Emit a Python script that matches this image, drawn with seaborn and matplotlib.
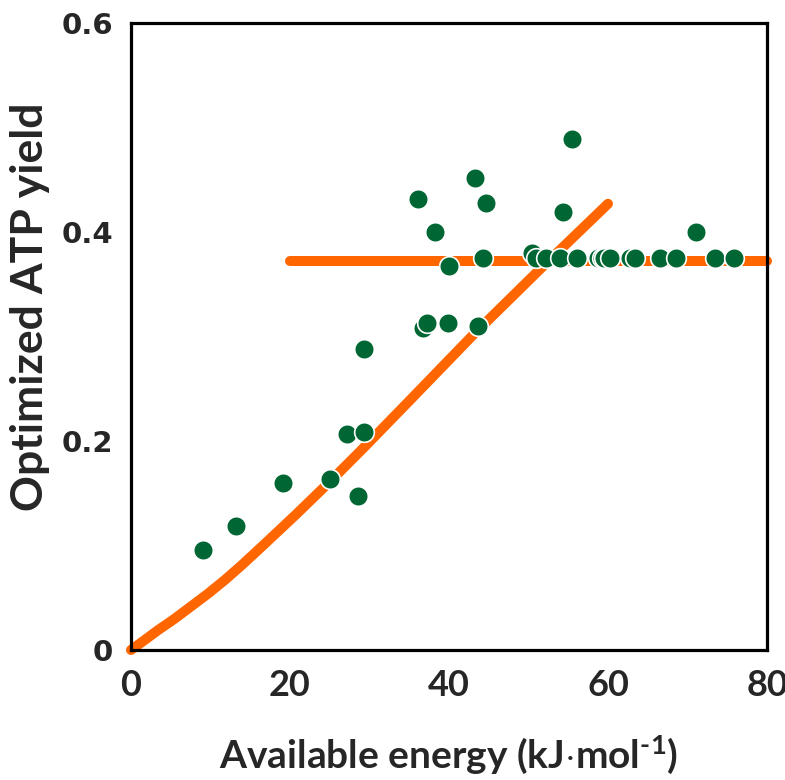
import matplotlib
matplotlib.use("Agg")
import matplotlib.pyplot as plt
import seaborn as sns

# ---- data ----
energy = [9.1, 13.2, 19.1, 25.0, 28.5, 27.2, 29.3, 29.3, 36.1, 38.2, 40.0,
          36.7, 37.2, 39.9, 43.3, 44.7, 44.3, 43.6, 55.5, 54.4, 71.1,
          50.4, 51.0, 52.2, 53.9, 56.1, 58.8, 59.2, 59.5, 60.3, 62.8, 63.4,
          66.5, 68.6, 73.5, 75.8]
atp_yield = [0.096, 0.119, 0.160, 0.164, 0.147, 0.207, 0.209, 0.288, 0.432, 0.400, 0.367,
             0.308, 0.313, 0.313, 0.452, 0.428, 0.375, 0.310, 0.489, 0.419, 0.400,
             0.380, 0.375, 0.375, 0.375, 0.375, 0.375, 0.375, 0.375, 0.375, 0.375, 0.375,
             0.375, 0.375, 0.375, 0.375]

curve_energy = [0.0, 1.8, 3.4, 5.5, 7.6, 9.7, 11.8, 13.9, 16.6, 20.8, 25.0, 29.2,
                34.7, 43.1, 51.4, 60.0]
curve_yield = [0.0, 0.010, 0.019, 0.030, 0.042, 0.054, 0.067, 0.081, 0.100, 0.130,
               0.161, 0.193, 0.236, 0.302, 0.364, 0.427]

plateau_energy = [20.0, 80.0]
plateau_yield = [0.372, 0.372]

x_ticks = [0, 20, 40, 60, 80]
x_tick_labels = ["0", "20", "40", "60", "80"]
y_ticks = [0, 0.1, 0.2, 0.3, 0.4, 0.5, 0.6]
y_tick_labels = ["0", "", "0.2", "", "0.4", "", "0.6"]

ORANGE = "#FF6600"
GREEN = "#006633"

sns.set_theme(style="white")
plt.rcParams["font.family"] = ["Lato", "DejaVu Sans"]
plt.rcParams["mathtext.fontset"] = "custom"
plt.rcParams["mathtext.rm"] = "Lato:bold"
plt.rcParams["mathtext.it"] = "Lato:bold"
plt.rcParams["mathtext.bf"] = "Lato:bold"

fig = plt.figure(figsize=(7.85, 7.8), dpi=100)
ax = fig.add_axes([131 / 785, 1 - 650 / 780, (767 - 131) / 785, (650 - 23) / 780])

sns.lineplot(x=curve_energy, y=curve_yield, sort=False, estimator=None,
             color=ORANGE, linewidth=7.2, ax=ax)
sns.lineplot(x=plateau_energy, y=plateau_yield, sort=False, estimator=None,
             color=ORANGE, linewidth=7.2, ax=ax)
for ln in ax.get_lines():
    ln.set_solid_capstyle("round")
    ln.set_solid_joinstyle("round")
    ln.set_clip_on(False)
    ln.set_zorder(2)

sns.scatterplot(x=energy, y=atp_yield, s=200, color=GREEN, edgecolor="white",
                linewidth=1.2, zorder=3, ax=ax, clip_on=False)

ax.set_xlim(0, 80)
ax.set_ylim(0, 0.6)
ax.set_xticks(x_ticks)
ax.set_xticklabels(x_tick_labels, fontfamily="Lato", fontweight="bold", fontsize=26)
ax.set_yticks(y_ticks)
ax.set_yticklabels(y_tick_labels, fontfamily="DejaVu Sans", fontweight="bold", fontsize=21)

ax.tick_params(axis="x", direction="in", length=11, width=1.1, pad=14, color="black")
ax.tick_params(axis="y", direction="in", length=6, width=1.1, pad=13, color="black")

for sp in ax.spines.values():
    sp.set_visible(True)
    sp.set_color("black")
    sp.set_linewidth(2.3)

ax.set_xlabel(r"Available energy (kJ$\cdot$mol$^{\text{-1}}$)", fontfamily="Lato",
              fontweight="bold", fontsize=28, labelpad=22)
ax.set_ylabel("Optimized ATP yield", fontfamily="Lato", fontweight="bold",
              fontsize=32)
ax.yaxis.set_label_coords(-0.128, 0.547)
ax.grid(False)

fig.savefig("out.png", dpi=100)
